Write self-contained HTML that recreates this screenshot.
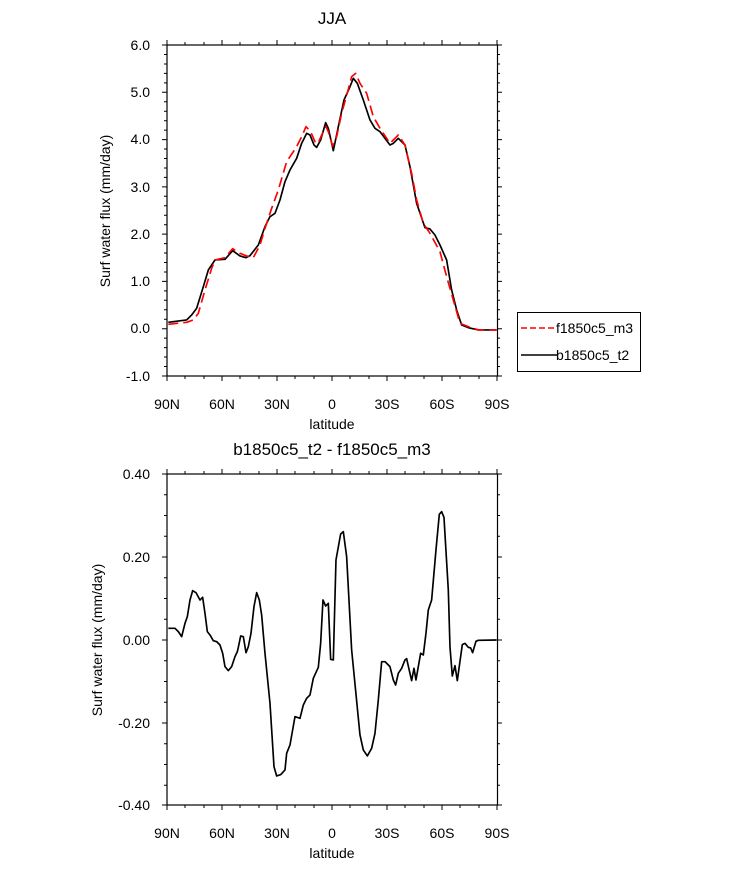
<!DOCTYPE html>
<html><head><style>body{margin:0;background:#fff}svg text{font-family:"Liberation Sans",Arial,sans-serif;fill:#000}</style></head>
<body>
<svg width="733" height="869" xmlns="http://www.w3.org/2000/svg">
<g id="top">
<rect x="167" y="45" width="330.5" height="331" fill="none" stroke="#000" stroke-width="1.2"/>
</g>
<g stroke="#000" stroke-width="1">
<!-- top plot ticks -->
<path d="M167,45v-5M222,45v-5M277,45v-5M332,45v-5M387,45v-5M442,45v-5M497,45v-5M167,376v5M222,376v5M277,376v5M332,376v5M387,376v5M442,376v5M497,376v5
M167,474v-5M222,474v-5M277,474v-5M332,474v-5M387,474v-5M442,474v-5M497,474v-5M167,805v5M222,805v5M277,805v5M332,805v5M387,805v5M442,805v5M497,805v5"/>
<path d="M185,45v-3M204,45v-3M240,45v-3M259,45v-3M295,45v-3M314,45v-3M350,45v-3M369,45v-3M405,45v-3M424,45v-3M460,45v-3M479,45v-3
M185,376v3M204,376v3M240,376v3M259,376v3M295,376v3M314,376v3M350,376v3M369,376v3M405,376v3M424,376v3M460,376v3M479,376v3
M185,474v-3M204,474v-3M240,474v-3M259,474v-3M295,474v-3M314,474v-3M350,474v-3M369,474v-3M405,474v-3M424,474v-3M460,474v-3M479,474v-3
M185,805v3M204,805v3M240,805v3M259,805v3M295,805v3M314,805v3M350,805v3M369,805v3M405,805v3M424,805v3M460,805v3M479,805v3"/>
<path d="M162,45h5M162,92.3h5M162,139.6h5M162,186.9h5M162,234.1h5M162,281.4h5M162,328.7h5M162,376h5M497,45h5M497,92.3h5M497,139.6h5M497,186.9h5M497,234.1h5M497,281.4h5M497,328.7h5M497,376h5
M162,474h5M162,557h5M162,640h5M162,723h5M162,805h5M497,474h5M497,557h5M497,640h5M497,723h5M497,805h5"/>
<path d="M164,54.5h3M164,64h3M164,73.4h3M164,82.9h3M164,101.8h3M164,111.2h3M164,120.7h3M164,130.1h3M164,149h3M164,158.5h3M164,168h3M164,177.4h3M164,196.3h3M164,205.8h3M164,215.2h3M164,224.7h3M164,243.6h3M164,253h3M164,262.5h3M164,272h3M164,290.9h3M164,300.3h3M164,309.8h3M164,319.2h3M164,338.1h3M164,347.6h3M164,357h3M164,366.5h3
M497,54.5h3M497,64h3M497,73.4h3M497,82.9h3M497,101.8h3M497,111.2h3M497,120.7h3M497,130.1h3M497,149h3M497,158.5h3M497,168h3M497,177.4h3M497,196.3h3M497,205.8h3M497,215.2h3M497,224.7h3M497,243.6h3M497,253h3M497,262.5h3M497,272h3M497,290.9h3M497,300.3h3M497,309.8h3M497,319.2h3M497,338.1h3M497,347.6h3M497,357h3M497,366.5h3
M164,494.7h3M164,515.5h3M164,536.2h3M164,577.7h3M164,598.5h3M164,619.2h3M164,660.7h3M164,681.5h3M164,702.2h3M164,743.7h3M164,764.5h3M164,785.2h3
M497,494.7h3M497,515.5h3M497,536.2h3M497,577.7h3M497,598.5h3M497,619.2h3M497,660.7h3M497,681.5h3M497,702.2h3M497,743.7h3M497,764.5h3M497,785.2h3"/>
</g>
<rect x="167" y="474" width="330.5" height="331" fill="none" stroke="#000" stroke-width="1.2"/>
<g transform="translate(150,30) scale(0.3333)" fill="none" stroke-width="5" stroke-linejoin="round">
<polyline stroke="#000" points="55,877 110,870 125,855 140,835 160,770 175,720 195,690 225,688 248,662 270,678 288,683 300,677 325,645 345,590 360,560 375,550 390,510 405,455 420,420 440,385 455,340 470,310 480,315 492,345 500,352 512,330 527,278 535,295 550,362 565,290 582,210 598,175 610,145 622,160 640,210 660,270 675,295 690,305 705,325 720,345 730,340 745,325 765,345 780,410 800,520 825,593 840,597 855,615 870,645 890,690 905,780 920,840 935,885 955,893 985,900 1040,900"/>
<polyline stroke="#f00" stroke-dasharray="30,15" points="55,883 110,877 130,870 145,850 165,780 185,715 195,690 225,683 248,656 270,670 290,678 310,683 330,645 345,595 365,535 385,480 410,395 440,350 455,320 468,290 482,305 497,340 505,338 515,315 528,290 535,305 548,348 560,320 575,250 593,185 605,140 617,130 630,160 650,190 670,260 690,295 720,340 745,315 765,345 785,430 800,510 820,580 840,610 870,665 890,740 910,810 930,880 955,890 985,900 1040,900"/>
</g>
<g transform="translate(150,460) scale(0.3333)" fill="none" stroke-width="5" stroke-linejoin="round">
<polyline stroke="#000" points="55,505 75,505 85,515 95,530 105,490 112,470 120,420 128,392 138,398 150,420 158,412 165,460 172,515 180,525 190,542 200,545 210,555 218,580 225,620 235,632 245,620 255,590 262,575 265,562 272,528 280,530 288,578 295,560 303,520 312,440 320,398 328,420 335,465 345,580 360,730 372,920 380,948 392,944 405,930 410,880 420,855 435,770 450,775 460,735 470,715 480,705 490,655 505,622 512,550 519,420 527,438 535,430 542,598 550,600 558,300 572,222 580,215 590,290 605,570 630,825 640,870 652,888 665,865 675,820 685,720 695,605 705,605 720,620 730,660 737,675 745,640 755,625 765,600 770,596 785,662 792,625 798,660 812,580 820,585 828,520 835,450 845,420 858,270 868,163 875,155 882,172 895,390 900,560 907,648 915,617 922,662 937,554 945,550 955,562 962,564 968,578 978,544 985,541 1040,540"/>
</g>
<g font-size="14" text-anchor="end">
<text x="150" y="50">6.0</text><text x="150" y="97">5.0</text><text x="150" y="144">4.0</text><text x="150" y="192">3.0</text><text x="150" y="239">2.0</text><text x="150" y="286">1.0</text><text x="150" y="333">0.0</text><text x="150" y="381">-1.0</text>
<text x="150" y="479">0.40</text><text x="150" y="562">0.20</text><text x="150" y="645">0.00</text><text x="150" y="728">-0.20</text><text x="150" y="810">-0.40</text>
</g>
<g font-size="14" text-anchor="middle">
<text x="167" y="409">90N</text><text x="222" y="409">60N</text><text x="277" y="409">30N</text><text x="332" y="409">0</text><text x="387" y="409">30S</text><text x="442" y="409">60S</text><text x="497" y="409">90S</text>
<text x="332" y="429">latitude</text>
<text x="167" y="838">90N</text><text x="222" y="838">60N</text><text x="277" y="838">30N</text><text x="332" y="838">0</text><text x="387" y="838">30S</text><text x="442" y="838">60S</text><text x="497" y="838">90S</text>
<text x="332" y="858">latitude</text>
<text x="332" y="24" font-size="17">JJA</text>
<text x="332" y="455" font-size="17">b1850c5_t2 - f1850c5_m3</text>
<text transform="translate(110,211) rotate(-90)">Surf water flux (mm/day)</text>
<text transform="translate(102,640) rotate(-90)">Surf water flux (mm/day)</text>
</g>
<rect x="517.5" y="312.5" width="123" height="59" fill="none" stroke="#000" stroke-width="1"/>
<line x1="521" y1="328" x2="557" y2="328" stroke="#f00" stroke-width="1.5" stroke-dasharray="6,3"/>
<line x1="521" y1="355" x2="557" y2="355" stroke="#000" stroke-width="1.5"/>
<text x="556" y="333" font-size="14">f1850c5_m3</text>
<text x="556" y="360" font-size="14">b1850c5_t2</text>
</svg>
</body></html>
